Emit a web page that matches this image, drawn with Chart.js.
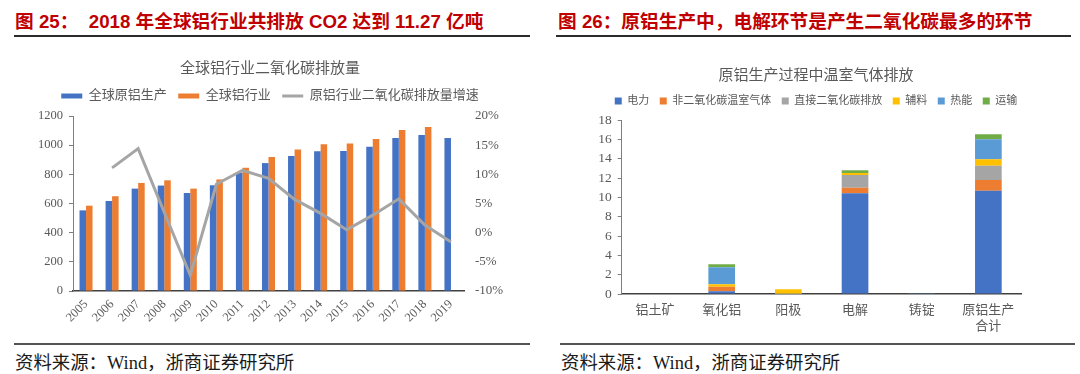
<!DOCTYPE html>
<html>
<head>
<meta charset="utf-8">
<script src="https://cdn.jsdelivr.net/npm/chart.js@4"></script>
<style>
    body { margin: 0; background: #fff; width: 1080px; height: 374px; position: relative; overflow: hidden; }
    .head { position: absolute; top: 6px; font: bold 18.7px "Liberation Sans", "Noto Sans CJK SC", sans-serif; color: #c00000; white-space: nowrap; }
    .rule { position: absolute; height: 2px; background: #2b2b2b; }
    .foot { position: absolute; top: 348px; font: 18.4px "Liberation Serif", "Noto Sans CJK SC", serif; color: #1a1a1a; white-space: nowrap; }
    .box { position: absolute; top: 40px; width: 540px; height: 300px; }
</style>
</head>
<body>
<div class="head" style="left:15px">图&nbsp;25：&nbsp; 2018 年全球铝行业共排放 CO2 达到 11.27 亿吨</div>
<div class="rule" style="left:14px; top:35px; width:516px"></div>
<div class="head" style="left:558px">图&nbsp;26：原铝生产中，电解环节是产生二氧化碳最多的环节</div>
<div class="rule" style="left:556px; top:35px; width:515px"></div>

<div class="box" style="left:0; height:295px"><canvas id="emissionChart"></canvas></div>
<div class="box" style="left:552px; width:528px"><canvas id="processChart"></canvas></div>

<div class="rule" style="left:14px; top:343px; width:516px; background:#555"></div>
<div class="rule" style="left:560px; top:343px; width:515px; background:#555"></div>
<div class="foot" style="left:15px">资料来源：Wind，浙商证券研究所</div>
<div class="foot" style="left:561px">资料来源：Wind，浙商证券研究所</div>

<script>
// Figure 25 data
const years = ['2005', '2006', '2007', '2008', '2009', '2010', '2011', '2012', '2013', '2014', '2015', '2016', '2017', '2018', '2019'];
const primaryAluminium = [553, 617, 702, 723, 672, 725, 812, 877, 926, 958, 960, 990, 1050, 1070, 1050];
const aluminiumIndustry = [585, 650, 741, 759, 702, 765, 845, 919, 970, 1006, 1011, 1043, 1104, 1125, null];
const emissionGrowth = [null, 11.1, 14.4, 3.5, -7.3, 8.3, 10.7, 9.3, 5.7, 3.3, 0.5, 3.0, 5.8, 1.3, -1.6];
const leftTicks = [0, 200, 400, 600, 800, 1000, 1200];
const rightTicks = [-10, -5, 0, 5, 10, 15, 20];

// Figure 26 data
const stages = ['铝土矿', '氧化铝', '阳极', '电解', '铸锭', ['原铝生产', '合计']];
const electricity = [0, 0.28, 0, 10.41, 0, 10.69];
const nonCo2Gas = [0, 0.48, 0, 0.59, 0, 1.10];
const directCo2 = [0, 0, 0.03, 1.31, 0, 1.49];
const materials = [0, 0.24, 0.45, 0.21, 0, 0.65];
const heat = [0, 1.76, 0, 0, 0.08, 2.07];
const transport = [0, 0.31, 0, 0.27, 0, 0.52];
const stageTicks = [0, 2, 4, 6, 8, 10, 12, 14, 16, 18];

const serif = '"Liberation Serif", "Noto Sans CJK SC", serif';
const textGray = '#595959';

// adds some room under the legend so the plot starts lower
function legendGap(extra) {
    return {
        id: 'legendGap',
        beforeInit(chart) {
            const fit = chart.legend.fit;
            chart.legend.fit = function () {
                fit.bind(chart.legend)();
                this.height += extra;
            };
        }
    };
}

document.addEventListener('DOMContentLoaded', function () {
    initializeCharts();
});

function initializeCharts() {
    // Global aluminium CO2 emissions
    const emissionCtx = document.getElementById('emissionChart').getContext('2d');
    new Chart(emissionCtx, {
        type: 'bar',
        data: {
            labels: years,
            datasets: [{
                label: '全球原铝生产',
                data: primaryAluminium,
                backgroundColor: '#4472C4',
                pointStyle: 'rect',
                order: 1
            }, {
                label: '全球铝行业',
                data: aluminiumIndustry,
                backgroundColor: '#ED7D31',
                pointStyle: 'rect',
                order: 1
            }, {
                type: 'line',
                label: '原铝行业二氧化碳排放量增速',
                data: emissionGrowth,
                yAxisID: 'y1',
                borderColor: '#A5A5A5',
                backgroundColor: '#A5A5A5',
                borderWidth: 3,
                pointRadius: 0,
                pointStyle: 'line',
                tension: 0,
                order: 0
            }]
        },
        plugins: [legendGap(3.5)],
        options: {
            responsive: true,
            maintainAspectRatio: false,
            animation: false,
            layout: { padding: 0 },
            datasets: { bar: { categoryPercentage: 0.5, barPercentage: 1 } },
            plugins: {
                title: {
                    display: true,
                    text: '全球铝行业二氧化碳排放量',
                    color: textGray,
                    font: { family: serif, size: 15, weight: 'normal' },
                    padding: { top: 20, bottom: 0 }
                },
                legend: {
                    labels: {
                        usePointStyle: true,
                        pointStyleWidth: 21,
                        boxHeight: 5,
                        padding: 11.5,
                        color: textGray,
                        font: { family: serif, size: 13 },
                        sort: (a, b) => a.datasetIndex - b.datasetIndex
                    }
                },
                tooltip: { enabled: false }
            },
            scales: {
                x: {
                    grid: { display: false, drawTicks: false },
                    border: { color: '#404040', width: 1.5 },
                    ticks: {
                        color: textGray,
                        font: { family: serif, size: 12.5 },
                        minRotation: 45,
                        maxRotation: 45,
                        padding: 6
                    },
                    afterFit: (scale) => { scale.height = 44; }
                },
                y: {
                    min: 0,
                    max: 1200,
                    afterBuildTicks: (scale) => { scale.ticks = leftTicks.map(v => ({ value: v })); },
                    grid: { display: true, drawOnChartArea: false, drawTicks: true, tickLength: 4, color: '#7f7f7f' },
                    border: { color: '#7f7f7f', width: 1 },
                    ticks: { color: textGray, font: { family: serif, size: 12.5 }, padding: 6, callback: (v) => String(v) },
                    afterFit: (scale) => { scale.width = 73; }
                },
                y1: {
                    position: 'right',
                    min: -10,
                    max: 20,
                    afterBuildTicks: (scale) => { scale.ticks = rightTicks.map(v => ({ value: v })); },
                    grid: { display: false, drawTicks: false },
                    border: { display: false },
                    ticks: {
                        color: textGray,
                        font: { family: serif, size: 13 },
                        padding: 11,
                        callback: (v) => v + '%'
                    },
                    afterFit: (scale) => { scale.width = 76; }
                }
            }
        }
    });

    // Greenhouse gas emissions by production stage
    const processCtx = document.getElementById('processChart').getContext('2d');
    const stack = [
        ['电力', electricity, '#4472C4'],
        ['非二氧化碳温室气体', nonCo2Gas, '#ED7D31'],
        ['直接二氧化碳排放', directCo2, '#A5A5A5'],
        ['辅料', materials, '#FFC000'],
        ['热能', heat, '#5B9BD5'],
        ['运输', transport, '#70AD47']
    ];
    new Chart(processCtx, {
        type: 'bar',
        data: {
            labels: stages,
            datasets: stack.map(([label, data, color]) => ({
                label: label,
                data: data,
                backgroundColor: color
            }))
        },
        plugins: [legendGap(3.5)],
        options: {
            responsive: true,
            maintainAspectRatio: false,
            animation: false,
            layout: { padding: 0 },
            datasets: { bar: { categoryPercentage: 0.4, barPercentage: 1 } },
            plugins: {
                title: {
                    display: true,
                    text: '原铝生产过程中温室气体排放',
                    color: textGray,
                    font: { family: serif, size: 15, weight: 'normal' },
                    padding: { top: 27, bottom: 0 }
                },
                legend: {
                    labels: {
                        boxWidth: 7,
                        boxHeight: 7,
                        padding: 10.5,
                        color: textGray,
                        font: { family: serif, size: 11 }
                    }
                },
                tooltip: { enabled: false }
            },
            scales: {
                x: {
                    stacked: true,
                    grid: { display: false, drawTicks: false },
                    border: { color: '#404040', width: 1.5 },
                    ticks: {
                        color: textGray,
                        font: { family: serif, size: 13 },
                        maxRotation: 0,
                        padding: 9
                    },
                    afterFit: (scale) => { scale.height = 46; }
                },
                y: {
                    stacked: true,
                    min: 0,
                    max: 18,
                    afterBuildTicks: (scale) => { scale.ticks = stageTicks.map(v => ({ value: v })); },
                    grid: { display: true, drawOnChartArea: false, drawTicks: true, tickLength: 4, color: '#7f7f7f' },
                    border: { color: '#7f7f7f', width: 1 },
                    ticks: { color: textGray, font: { family: serif, size: 13.5 }, padding: 6 },
                    afterFit: (scale) => { scale.width = 69.7; }
                },
                // empty right-hand axis, only reserves the blank margin
                spacer: {
                    type: 'linear',
                    position: 'right',
                    grid: { display: false, drawTicks: false },
                    border: { display: false },
                    ticks: { display: false },
                    afterFit: (scale) => { scale.width = 58.3; }
                }
            }
        }
    });
}
</script>
</body>
</html>
